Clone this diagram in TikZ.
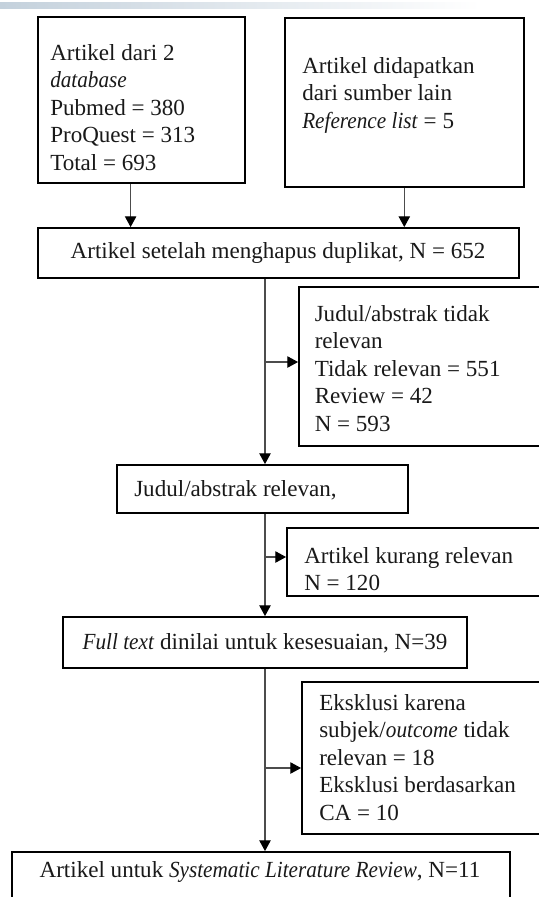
\documentclass[tikz,border=0pt]{standalone}
\usepackage{fontspec}
\setmainfont{Liberation Serif}[ItalicFeatures={FakeStretch=0.92}]
\usetikzlibrary{arrows.meta,fit}
\definecolor{barcol}{RGB}{196,209,220}
\begin{document}
\begin{tikzpicture}[x=0.75pt,y=-0.75pt,
  box/.style={draw=black, line width=1.4pt, inner sep=0pt},
  txt/.style={inner sep=0pt, align=left, text=black!90, font=\fontsize{17.3}{20.6}\selectfont},
  conn/.style={draw=black!70, line width=0.8pt},
  arr/.style={conn, -{Triangle[length=8pt,width=8.5pt,color=black]}}]
\useasboundingbox (0,0) rectangle (539,897);
\shade[left color=barcol, right color=white] (0,2) rectangle (481,8);

% boxes
\node[box, fit={(37.8,17) (244.7,183)}] (b1) {};
\node[box, fit={(284.6,18) (524,187)}] (b2) {};
\node[box, fit={(37.8,228) (519,278)}] (b3) {};
\node[box, fit={(299,287) (548,446)}] (b4) {};
\node[box, fit={(117,465) (408,513)}] (b5) {};
\node[box, fit={(287,528) (548,596)}] (b6) {};
\node[box, fit={(63,617) (467,668)}] (b7) {};
\node[box, fit={(302,682) (548,834)}] (b8) {};
\node[box, fit={(12,852) (510,910)}] (b9) {};

% texts
\node[txt, anchor=north west] (t1) at (50,44) {Artikel dari 2\\ \textit{database}\\ Pubmed = 380\\ ProQuest = 313\\ Total = 693};
\node[txt, anchor=north west] (t2) at (302,57) {Artikel didapatkan\\ dari sumber lain\\ \textit{Reference list} = 5};
\node[txt] (t3) at (278,253) {Artikel setelah menghapus duplikat, N = 652};
\node[txt, anchor=north west] (t4) at (314.5,305) {Judul/abstrak tidak\\ relevan\\ Tidak relevan = 551\\ Review = 42\\ N = 593};
\node[txt, anchor=west] (t5) at (134,490) {Judul/abstrak relevan,};
\node[txt, anchor=north west] (t6) at (304,547) {Artikel kurang relevan\\ N = 120};
\node[txt] (t7) at (265,643) {\textit{Full text} dinilai untuk kesesuaian, N=39};
\node[txt, anchor=north west] (t8) at (319,694) {Eksklusi karena\\ subjek/\textit{outcome} tidak\\ relevan = 18\\ Eksklusi berdasarkan\\ CA = 10};
\node[txt] (t9) at (260,872) {Artikel untuk \textit{Systematic Literature Review}, N=11};

% connectors
\coordinate (lx) at (130.6,0);
\coordinate (ax) at (265,0);
\coordinate (br1) at (265,362);
\coordinate (br2) at (265,557);
\coordinate (br3) at (265,768);
\draw[arr] (b1.south -| lx) -- (b3.north -| lx);
\draw[arr] (b2.south) -- (b3.north -| b2.south);
\draw[arr] (b3.south -| ax) -- (b5.north -| ax);
\draw[arr] (br1) -- (br1 -| b4.west);
\draw[arr] (b5.south -| ax) -- (b7.north -| ax);
\draw[arr] (br2) -- (br2 -| b6.west);
\draw[arr] (b7.south -| ax) -- (b9.north -| ax);
\draw[arr] (br3) -- (br3 -| b8.west);
\end{tikzpicture}
\end{document}
